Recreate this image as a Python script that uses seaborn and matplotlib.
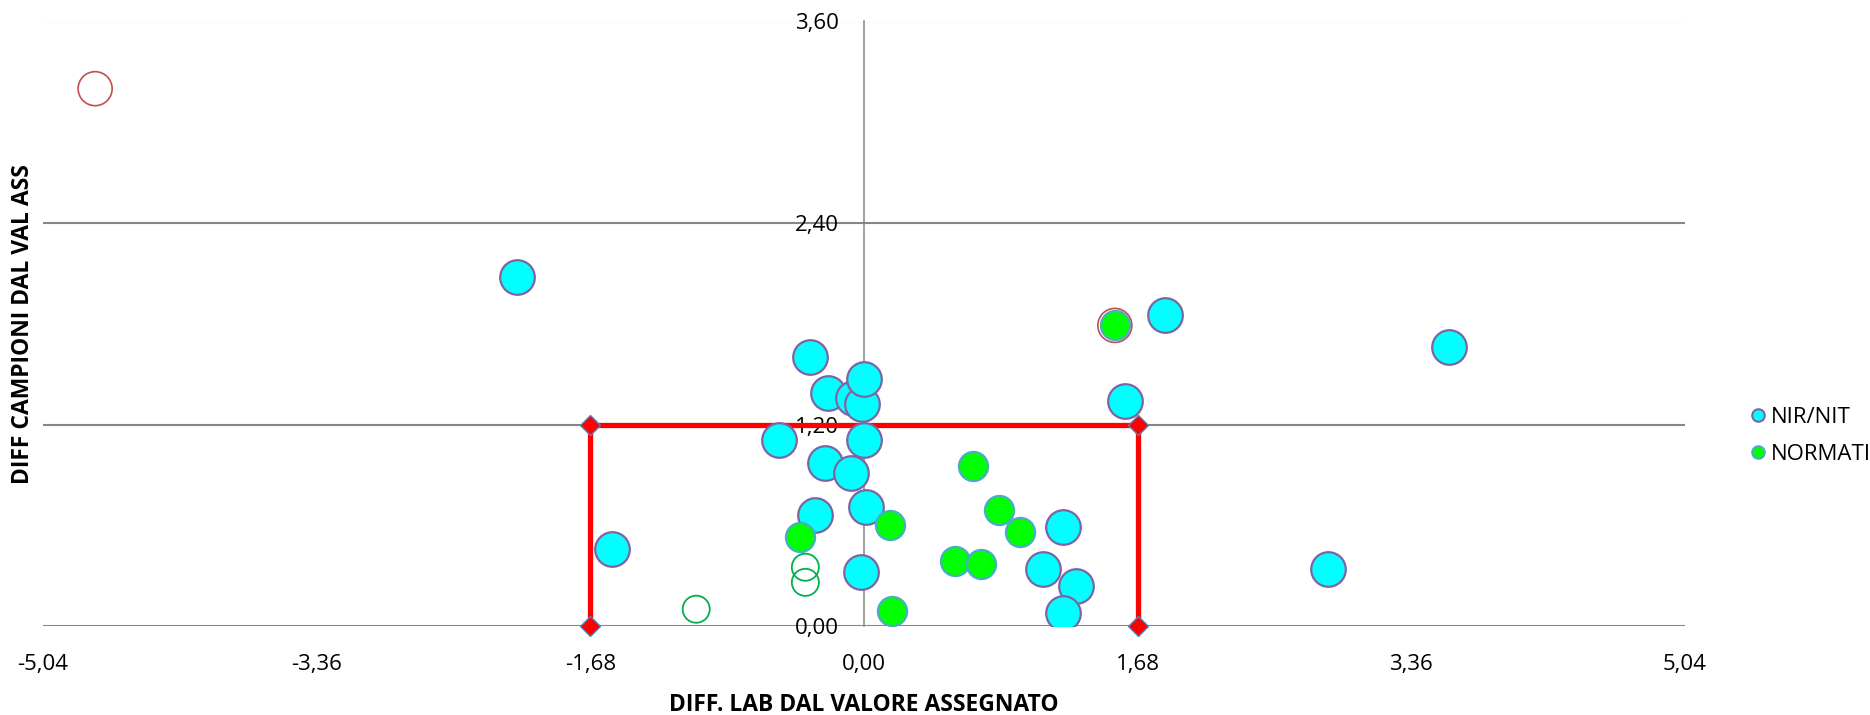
import matplotlib
matplotlib.use('Agg')
import matplotlib.pyplot as plt
import seaborn as sea
from matplotlib.lines import Line2D

# NIR/NIT samples
nir_x = [-2.13, -1.55, -0.52, -0.33, -0.22, -0.07, -0.01, 0.00, 0.00, -0.24, -0.08,
         0.01, -0.30, -0.02, 1.22, 1.10, 1.30, 1.22, 1.60, 1.85, 3.59, 2.85]
nir_y = [2.08, 0.46, 1.11, 1.60, 1.39, 1.36, 1.32, 1.47, 1.11, 0.97, 0.91,
         0.71, 0.66, 0.32, 0.59, 0.34, 0.24, 0.08, 1.34, 1.85, 1.66, 0.34]

# NORMATI samples
norm_x = [-0.39, 0.16, 0.17, 0.67, 0.83, 0.96, 0.56, 0.72, 1.54]
norm_y = [0.53, 0.60, 0.09, 0.95, 0.69, 0.56, 0.39, 0.37, 1.79]

# points drawn without fill
open_green_x = [-1.03, -0.36, -0.36]
open_green_y = [0.10, 0.35, 0.26]
open_red_x = [-4.72, 1.54]
open_red_y = [3.20, 1.79]

# limit box
box_x = [-1.68, -1.68, 1.68, 1.68]
box_y = [0.00, 1.20, 1.20, 0.00]

x_ticks = [-5.04, -3.36, -1.68, 0.00, 1.68, 3.36, 5.04]
y_ticks = [0.00, 1.20, 2.40, 3.60]


def comma(v):
    return '{:.2f}'.format(v).replace('.', ',')


sea.set_style('white')
plt.rcParams['font.family'] = ['Open Sans', 'DejaVu Sans']
plt.rcParams['text.color'] = 'black'
plt.rcParams['axes.labelcolor'] = 'black'
plt.rcParams['xtick.color'] = 'black'
plt.rcParams['ytick.color'] = 'black'

fig = plt.figure(figsize=(18.7, 7.15), dpi=100)
ax = fig.add_axes([43 / 1870, 89 / 715, 1642 / 1870, 604.5 / 715])

ax.plot(box_x, box_y, color='#FF0000', lw=3.8, marker='D', markersize=10,
        markerfacecolor='#FF0000', markeredgecolor='#4F81BD', markeredgewidth=1,
        clip_on=False, zorder=2)

sea.scatterplot(x=open_red_x, y=open_red_y, s=600, color='none',
                edgecolor='#C0504D', linewidth=1.2, ax=ax, zorder=3, legend=False)
sea.scatterplot(x=nir_x, y=nir_y, s=620, color='#00FFFF',
                edgecolor='#8064A2', linewidth=1.6, ax=ax, zorder=4, legend=False)
sea.scatterplot(x=norm_x, y=norm_y, s=440, color='#00FF00',
                edgecolor='#4BACC6', linewidth=1.6, ax=ax, zorder=5, legend=False)
sea.scatterplot(x=open_green_x, y=open_green_y, s=380, color='none',
                edgecolor='#00B050', linewidth=1.3, ax=ax, zorder=5, legend=False)

ax.set_xlim(-5.04, 5.04)
ax.set_ylim(0, 3.6)
ax.set_xticks(x_ticks)
ax.set_xticklabels([comma(v) for v in x_ticks])
ax.set_yticks(y_ticks)
ax.set_yticklabels([comma(v) for v in y_ticks])

ax.grid(axis='y', color='#868686', lw=1.5)
ax.grid(axis='x', visible=False)
for side in ['top', 'right', 'bottom']:
    ax.spines[side].set_visible(False)
ax.spines['left'].set_position(('data', 0))
ax.spines['left'].set_color('#868686')
ax.spines['left'].set_linewidth(1.1)

ax.tick_params(axis='y', length=0, pad=18, labelsize=16)
ax.tick_params(axis='x', length=0, pad=20, labelsize=16)
for lab in ax.get_yticklabels():
    lab.set_zorder(10)

ax.set_xlabel('DIFF. LAB DAL VALORE ASSEGNATO', fontsize=16.5, fontweight='bold')
ax.xaxis.label.set_verticalalignment('center')
ax.xaxis.set_label_coords(0.5, -0.131)
ax.set_ylabel('DIFF CAMPIONI DAL VAL ASS', fontsize=16.5, fontweight='bold')
ax.yaxis.label.set_verticalalignment('center')
ax.yaxis.set_label_coords(-0.0122, 0.5)

handles = [
    Line2D([], [], ls='none', marker='o', markersize=9, markerfacecolor='#00FFFF',
           markeredgecolor='#8064A2', markeredgewidth=1.5),
    Line2D([], [], ls='none', marker='o', markersize=9, markerfacecolor='#00FF00',
           markeredgecolor='#4BACC6', markeredgewidth=1.5),
]
fig.legend(handles, ['NIR/NIT', 'NORMATI'], loc='center left',
           bbox_to_anchor=(1751 / 1870, 1 - 436 / 715), frameon=False,
           fontsize=16, handlelength=0.6, handletextpad=0.3, labelspacing=0.7,
           borderpad=0, borderaxespad=0)

fig.savefig('out.png', dpi=100)
